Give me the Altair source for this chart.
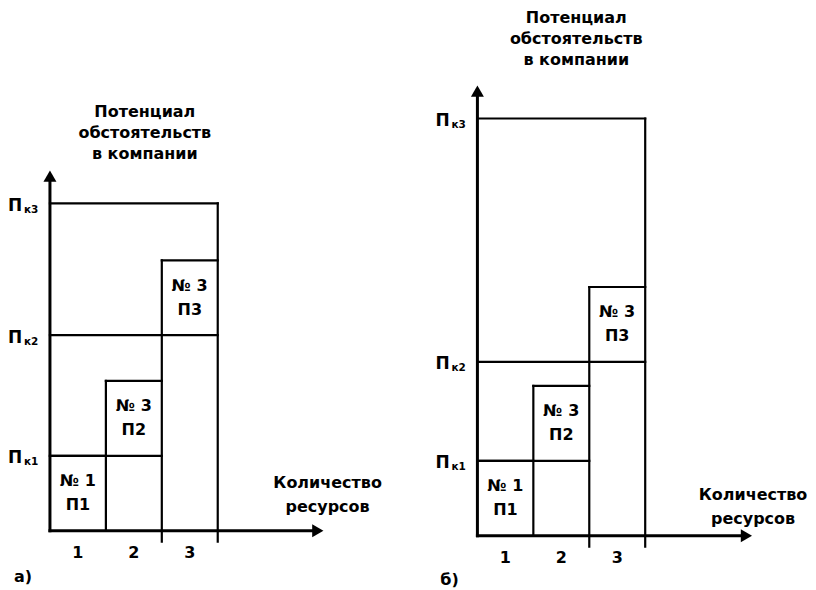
import math
import altair as alt
import pandas as pd

# ---------------- values ----------------
col_labels = ["1", "2", "3"]                 # resource quantity (x categories)
box_top_lines = ["№ 1", "№ 3", "№ 3"]
box_bot_lines = ["П1", "П2", "П3"]
level_subs = ["к1", "к2", "к3"]             # subscripts of П (Пк1, Пк2, Пк3)
y_title_lines = ["Потенциал", "обстоятельств", "в компании"]
x_title_lines = ["Количество", "ресурсов"]
panel_tags = ["а)", "б)"]

# potential levels Пк1, Пк2, Пк3 in units of one project block height
levels_a = [1.0, 2.61, 4.37]
levels_b = [1.0, 2.32, 5.57]
block_height = 1.0
n_cols = 3
y_axis_end = [4.81, 6.01]      # arrow tip of the vertical axis
x_axis_end = [4.89, 4.91]      # arrow tip of the horizontal axis

# ---------------- layout ----------------
PX, PY = 56.0, 75.0            # pixels per data unit
W, H = 400, 574
TOP = 8
FONT = "DejaVu Sans"
FS = 16
WEIGHT = "bold"

panels = [
    dict(levels=levels_a, yend=y_axis_end[0], xend=x_axis_end[0], origin=(50, 531), left=8,
         title=(145, 133), xlab=(328, 483), tag=(23, 577), tag_text=panel_tags[0]),
    dict(levels=levels_b, yend=y_axis_end[1], xend=x_axis_end[1], origin=(478, 536), left=408,
         title=(577, 39), xlab=(754, 495), tag=(450, 580), tag_text=panel_tags[1]),
]


def make_panel(p):
    ox, oy = p["origin"]
    xdom = [(p["left"] - ox) / PX, (p["left"] + W - ox) / PX]
    ydom = [(oy - (TOP + H)) / PY, (oy - TOP) / PY]
    X = lambda f="x": alt.X(f"{f}:Q", scale=alt.Scale(domain=xdom, nice=False, zero=False), axis=None)
    Y = lambda f="y": alt.Y(f"{f}:Q", scale=alt.Scale(domain=ydom, nice=False, zero=False), axis=None)
    sx = lambda px: (px - ox) / PX
    sy = lambda py: (oy - py) / PY

    p1, p2, p3 = p["levels"]
    h = block_height
    tick = 11 / PY
    segs = [
        (0, p3, n_cols, p3),
        (n_cols, -tick, n_cols, p3),
        (0, p2, n_cols, p2),
        (0, p1, 2, p1),
        (0, h, 1, h),
        (1, 0, 1, p1 + h),
        (1, p1 + h, 2, p1 + h),
        (2, -tick, 2, p2 + h),
        (2, p2 + h, n_cols, p2 + h),
    ]
    seg_df = pd.DataFrame(segs, columns=["x", "y", "x2", "y2"])

    # arrow heads
    size = 169
    r = math.sqrt(size) / 2
    hh = math.sqrt(3) * r / 2
    ax_df = pd.DataFrame([
        (0, 0, 0, p["yend"] - hh / PY),
        (0, 0, p["xend"] - hh / PX, 0),
    ], columns=["x", "y", "x2", "y2"])
    up_df = pd.DataFrame({"x": [0], "y": [p["yend"] - hh / PY]})
    right_df = pd.DataFrame({"x": [p["xend"] - hh / PX], "y": [0]})

    thin = alt.Chart(seg_df).mark_rule(color="black", strokeWidth=2.2, strokeCap="square").encode(
        x=X(), y=Y(), x2="x2:Q", y2="y2:Q")
    axes = alt.Chart(ax_df).mark_rule(color="black", strokeWidth=3, strokeCap="square").encode(
        x=X(), y=Y(), x2="x2:Q", y2="y2:Q")
    up = alt.Chart(up_df).mark_point(shape="triangle-up", filled=True, size=size, color="black",
                                     opacity=1, strokeWidth=0).encode(x=X(), y=Y())
    right = alt.Chart(right_df).mark_point(shape="triangle-right", filled=True, size=size, color="black",
                                           opacity=1, strokeWidth=0).encode(x=X(), y=Y())

    # texts
    rows = []
    for i, lab in enumerate(col_labels):
        rows.append((i + 0.5, -22 / PY, lab, FS, "center"))
    bottoms = [0, p1, p2]
    for i in range(n_cols):
        cy = bottoms[i] + h / 2
        rows.append((i + 0.5, cy + 12 / PY, box_top_lines[i], FS, "center"))
        rows.append((i + 0.5, cy - 12 / PY, box_bot_lines[i], FS, "center"))
    for j, lv in enumerate(p["levels"]):
        rows.append((-42 / PX, lv - 2.5 / PY, "П", 17, "left"))
        rows.append((-26 / PX, lv - 6.5 / PY, level_subs[j], 10.5, "left"))
    tx, ty = p["title"]
    for i, line in enumerate(y_title_lines):
        rows.append((sx(tx), sy(ty + (i - 1) * 21), line, FS, "center"))
    lx, ly = p["xlab"]
    for i, line in enumerate(x_title_lines):
        rows.append((sx(lx), sy(ly + i * 24), line, FS, "center"))
    gx, gy = p["tag"]
    rows.append((sx(gx), sy(gy), p["tag_text"], FS, "center"))
    txt_df = pd.DataFrame(rows, columns=["x", "y", "text", "fs", "align"])

    layers = [thin, axes, up, right]
    for (fs, al), sub in txt_df.groupby(["fs", "align"]):
        layers.append(
            alt.Chart(sub).mark_text(font=FONT, fontSize=float(fs), fontWeight=WEIGHT, align=al,
                                     baseline="middle", color="black").encode(x=X(), y=Y(), text="text:N"))
    return alt.layer(*layers).properties(width=W, height=H)


chart = alt.hconcat(*[make_panel(p) for p in panels], spacing=0).properties(
    padding=0).configure_view(strokeWidth=0)

chart.save("out.html", embed_options={"renderer": "svg", "actions": False})
